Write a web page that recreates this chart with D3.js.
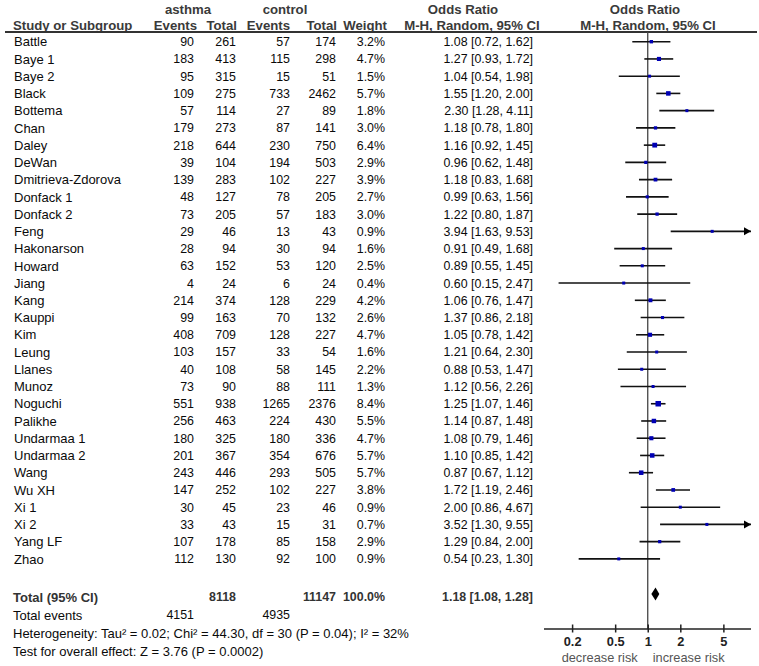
<!DOCTYPE html>
<html>
<head>
<meta charset="utf-8">
<script src="https://cdn.jsdelivr.net/npm/d3@7"></script>
<style>
html,body{margin:0;padding:0;background:#fff;}
svg{display:block;font-family:"Liberation Sans",Arial,sans-serif;}
</style>
</head>
<body>
<svg id="chart" width="759" height="666"></svg>
<script>
const studies = ["Battle","Baye 1","Baye 2","Black","Bottema","Chan","Daley","DeWan","Dmitrieva-Zdorova","Donfack 1","Donfack 2","Feng","Hakonarson","Howard","Jiang","Kang","Kauppi","Kim","Leung","Llanes","Munoz","Noguchi","Palikhe","Undarmaa 1","Undarmaa 2","Wang","Wu XH","Xi 1","Xi 2","Yang LF","Zhao"];
const asthmaEvents = [90,183,95,109,57,179,218,39,139,48,73,29,28,63,4,214,99,408,103,40,73,551,256,180,201,243,147,30,33,107,112];
const asthmaTotal = [261,413,315,275,114,273,644,104,283,127,205,46,94,152,24,374,163,709,157,108,90,938,463,325,367,446,252,45,43,178,130];
const controlEvents = [57,115,15,733,27,87,230,194,102,78,57,13,30,53,6,128,70,128,33,58,88,1265,224,180,354,293,102,23,15,85,92];
const controlTotal = [174,298,51,2462,89,141,750,503,227,205,183,43,94,120,24,229,132,227,54,145,111,2376,430,336,676,505,227,46,31,158,100];
const weights = [3.2,4.7,1.5,5.7,1.8,3.0,6.4,2.9,3.9,2.7,3.0,0.9,1.6,2.5,0.4,4.2,2.6,4.7,1.6,2.2,1.3,8.4,5.5,4.7,5.7,5.7,3.8,0.9,0.7,2.9,0.9];
const oddsRatio = [1.08,1.27,1.04,1.55,2.30,1.18,1.16,0.96,1.18,0.99,1.22,3.94,0.91,0.89,0.60,1.06,1.37,1.05,1.21,0.88,1.12,1.25,1.14,1.08,1.10,0.87,1.72,2.00,3.52,1.29,0.54];
const ciLower = [0.72,0.93,0.54,1.20,1.28,0.78,0.92,0.62,0.83,0.63,0.80,1.63,0.49,0.55,0.15,0.76,0.86,0.78,0.64,0.53,0.56,1.07,0.87,0.79,0.85,0.67,1.19,0.86,1.30,0.84,0.23];
const ciUpper = [1.62,1.72,1.98,2.00,4.11,1.80,1.45,1.48,1.68,1.56,1.87,9.53,1.68,1.45,2.47,1.47,2.18,1.42,2.30,1.47,2.26,1.46,1.48,1.46,1.42,1.12,2.46,4.67,9.55,2.00,1.30];

const totalAsthma = 8118, totalControl = 11147, totalWeight = "100.0%";
const totalEventsAsthma = 4151, totalEventsControl = 4935;
const pooled = [1.18, 1.08, 1.28];
const heterogeneityText = "Heterogeneity: Tau\u00b2 = 0.02; Chi\u00b2 = 44.30, df = 30 (P = 0.04); I\u00b2 = 32%";
const overallText = "Test for overall effect: Z = 3.76 (P = 0.0002)";
const axisTicks = [0.2, 0.5, 1, 2, 5];
const axisTickLabels = ["0.2", "0.5", "1", "2", "5"];
const leftLabel = "decrease risk", rightLabel = "increase risk";

const svg = d3.select("#chart");
const fmt2 = d3.format(".2f");

// layout
const colName = 14, colAE = 194, colAT = 236, colCE = 290, colCT = 336, colW = 385, colCI = 533;
const y = d3.scaleLinear().domain([0, studies.length - 1]).range([41.7, 558.9]);
const x = d3.scaleLog().domain([0.11, 9]).range([544, 751]);
const axisY = 629, totalY = 597, eventsY = 615, hetY = 633, testY = 651;

const bodySize = "13px", numSize = "12.4px";
const txt = (xx, yy, s, anchor, opts = {}) =>
  svg.append("text").attr("x", xx).attr("y", yy).attr("dy", "0.36em")
    .attr("text-anchor", anchor || "start")
    .attr("font-size", opts.size || bodySize)
    .attr("font-weight", opts.bold ? "bold" : "normal")
    .attr("fill", opts.fill || "#0a0a0a").text(s);
const num = (xx, yy, s, opts = {}) => txt(xx, yy, s, "end", Object.assign({size: numSize}, opts));

// headers
const hOpt = {bold: true, size: "13.2px", fill: "#3a3a3a"};
txt(188, 9.5, "asthma", "middle", hOpt);
txt(285, 9.5, "control", "middle", hOpt);
txt(463, 9.5, "Odds Ratio", "middle", hOpt);
txt(645, 9.5, "Odds Ratio", "middle", hOpt);
txt(13, 25, "Study or Subgroup", "start", hOpt);
txt(197, 25, "Events", "end", hOpt);
txt(237, 25, "Total", "end", hOpt);
txt(290, 25, "Events", "end", hOpt);
txt(337, 25, "Total", "end", hOpt);
txt(387, 25, "Weight", "end", hOpt);
txt(472, 25, "M-H, Random, 95% CI", "middle", hOpt);
txt(648, 25, "M-H, Random, 95% CI", "middle", hOpt);
svg.append("line").attr("x1", 5).attr("x2", 757).attr("y1", 32).attr("y2", 32)
  .attr("stroke", "#333").attr("stroke-width", 1.8);

// table rows
studies.forEach((s, i) => {
  const yy = y(i);
  txt(colName, yy, s, "start");
  num(colAE, yy, asthmaEvents[i]);
  num(colAT, yy, asthmaTotal[i]);
  num(colCE, yy, controlEvents[i]);
  num(colCT, yy, controlTotal[i]);
  num(colW, yy, weights[i].toFixed(1) + "%");
  num(colCI, yy, `${fmt2(oddsRatio[i])} [${fmt2(ciLower[i])}, ${fmt2(ciUpper[i])}]`);
});

// totals
const tOpt = {bold: true, fill: "#333"};
txt(13, totalY, "Total (95% CI)", "start", tOpt);
num(colAT, totalY, totalAsthma, tOpt);
num(colCT, totalY, totalControl, tOpt);
num(colW, totalY, totalWeight, tOpt);
num(colCI, totalY, `${fmt2(pooled[0])} [${fmt2(pooled[1])}, ${fmt2(pooled[2])}]`, tOpt);
txt(13, eventsY, "Total events", "start");
num(colAE, eventsY, totalEventsAsthma);
num(colCE, eventsY, totalEventsControl);
txt(13, hetY, heterogeneityText, "start");
txt(13, testY, overallText, "start");

// forest plot
const [dMin, dMax] = x.domain();
svg.append("line").attr("x1", x(1)).attr("x2", x(1)).attr("y1", 32).attr("y2", axisY)
  .attr("stroke", "#444").attr("stroke-width", 1.3);

const sizeScale = d3.scaleSqrt().domain([0, 10]).range([0, 6]);
const g = svg.append("g");
studies.forEach((s, i) => {
  const yy = y(i);
  const lo = Math.max(ciLower[i], dMin), hi = Math.min(ciUpper[i], dMax);
  g.append("line").attr("x1", x(lo)).attr("x2", x(hi)).attr("y1", yy).attr("y2", yy)
    .attr("stroke", "#111").attr("stroke-width", 1.6);
  if (ciUpper[i] > dMax) {
    const tx = x(dMax);
    g.append("path").attr("d", `M${tx},${yy} L${tx - 7},${yy - 4} L${tx - 7},${yy + 4} Z`).attr("fill", "#000");
  }
  if (ciLower[i] < dMin) {
    const tx = x(dMin);
    g.append("path").attr("d", `M${tx},${yy} L${tx + 7},${yy - 4} L${tx + 7},${yy + 4} Z`).attr("fill", "#000");
  }
  const sz = Math.max(3, sizeScale(weights[i]));
  g.append("rect").attr("x", x(oddsRatio[i]) - sz / 2).attr("y", yy - sz / 2)
    .attr("width", sz).attr("height", sz).attr("fill", "#0000b4");
});

// pooled diamond
const dy = 594;
svg.append("path")
  .attr("d", `M${x(pooled[1])},${dy} L${x(pooled[0])},${dy - 6.5} L${x(pooled[2])},${dy} L${x(pooled[0])},${dy + 6.5} Z`)
  .attr("fill", "#000");

// axis
const axis = d3.axisBottom(x).tickValues(axisTicks).tickFormat((d, i) => axisTickLabels[i]).tickSize(0).tickPadding(0);
const ag = svg.append("g").attr("transform", `translate(0,${axisY})`).call(axis);
ag.select(".domain").remove();
ag.append("line").attr("x1", x.range()[0]).attr("x2", x.range()[1]).attr("stroke", "#222").attr("stroke-width", 1.3);
ag.selectAll(".tick line").remove();
ag.selectAll(".tick").append("line").attr("y1", -4.5).attr("y2", 3.5).attr("stroke", "#222").attr("stroke-width", 1.5);
ag.selectAll(".tick text").attr("y", 12.5).attr("dy", "0.36em")
  .attr("font-family", "Liberation Sans, Arial, sans-serif").attr("font-size", "12.8px")
  .attr("font-weight", "bold").attr("fill", "#222");

txt(x(1) - 10, 657, leftLabel, "end", {size: "12.8px", fill: "#555"});
txt(x(1) + 5, 657, rightLabel, "start", {size: "12.8px", fill: "#555"});
</script>
</body>
</html>
